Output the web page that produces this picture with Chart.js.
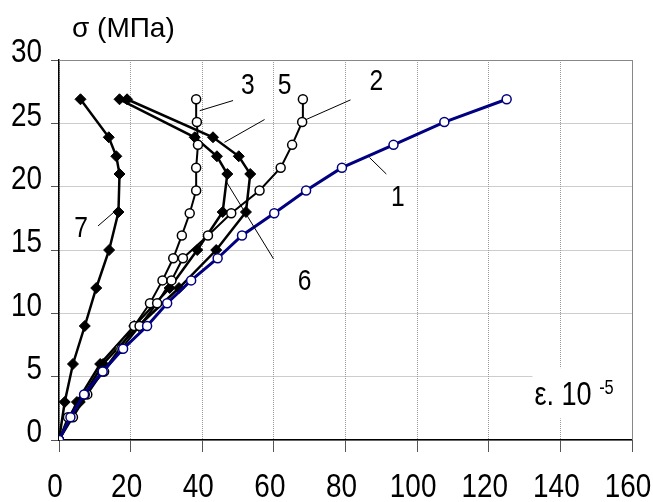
<!DOCTYPE html>
<html>
<head>
<meta charset="utf-8">
<script src="https://cdn.jsdelivr.net/npm/chart.js@4.4.0/dist/chart.umd.min.js"></script>
<style>
  body { margin: 0; background: #fff; }
  #wrap { width: 653px; height: 502px; }
</style>
</head>
<body>
<div id="wrap"><canvas id="myChart"></canvas></div>
<script>
// stress levels (MPa) for the open-circle curves and the diamond curves
var yCircles = [0, 1.8, 3.6, 5.4, 7.2, 9.0, 10.8, 12.6, 14.35, 16.15, 17.9, 19.7, 21.5, 23.3, 25.1, 26.9];
var yDiamonds = [0, 3, 6, 9, 12, 15, 18, 21, 22.4, 23.9, 26.9];

// strain (x 10^-5) for each curve
var curve1 = [0, 3.2, 7.0, 12.2, 17.9, 24.6, 30.2, 36.9, 44.3, 51.1, 60.1, 69.0, 79.0, 93.4, 107.6, 125.0];
var curve2 = [0, 2.5, 7.2, 12.6, 17.4, 22.5, 27.4, 31.4, 34.6, 41.6, 48.1, 56.0, 61.9, 65.1, 67.9, 68.1];
var curve3 = [0, 3.9, 7.9, 12.2, 16.9, 21.0, 25.4, 28.9, 31.9, 34.3, 36.5, 38.3, 38.3, 38.8, 38.5, 38.3];
var curve5 = [0, 5.8, 12.3, 22.2, 33.5, 43.9, 52.2, 53.4, 50.2, 43.0, 19.0];
var curve6 = [0, 5.0, 11.5, 21.0, 30.9, 38.6, 45.7, 47.0, 44.1, 37.9, 16.9];
var curve7 = [0, 1.6, 3.9, 7.2, 10.4, 14.0, 16.6, 16.9, 16.0, 13.9, 6.0];

var xTicks = [0, 20, 40, 60, 80, 100, 120, 140, 160];
var yTicks = [0, 5, 10, 15, 20, 25, 30];

// curve numbers and their leader lines (data units)
var tagText = ['1', '2', '3', '5', '6', '7'];
var tagX = [94.6, 88.6, 52.7, 63.0, 68.6, 6.2];
var tagY = [19.1, 28.25, 28.0, 28.0, 12.5, 16.7];
var leadX1 = [86.7, 69.0, 39.3, 46.2, 46.7, 10.9];
var leadY1 = [22.3, 25.3, 26.0, 23.5, 20.4, 16.9];
var leadX2 = [91.4, 81.4, 48.6, 57.4, 59.9, 15.8];
var leadY2 = [21.0, 26.85, 26.8, 25.3, 14.3, 18.1];

var FONT = "'Liberation Sans', Arial, sans-serif";
var SQUEEZE = 0.82; // narrow look of the original digits

function pts(xs, ys) {
    return xs.map(function (x, i) { return { x: x, y: ys[i] }; });
}

function circleSet(xs, color, width) {
    return {
        data: pts(xs, yCircles),
        showLine: true,
        borderColor: color,
        borderWidth: width,
        pointStyle: 'circle',
        pointRadius: 4.5,
        pointBorderWidth: 1.5,
        pointBackgroundColor: '#fff',
        pointBorderColor: color
    };
}

function diamondSet(xs) {
    return {
        data: pts(xs, yDiamonds),
        showLine: true,
        borderColor: '#000',
        borderWidth: 2.5,
        pointStyle: 'rectRot',
        pointRadius: 5.5,
        pointBorderWidth: 1,
        pointBackgroundColor: '#000',
        pointBorderColor: '#000'
    };
}

// narrow text: squeeze horizontally around the anchor
function narrow(ctx, txt, x, y, size, align, base) {
    ctx.save();
    ctx.font = size + 'px ' + FONT;
    ctx.textAlign = align;
    ctx.textBaseline = base;
    ctx.translate(x, y);
    ctx.scale(SQUEEZE, 1);
    ctx.fillText(txt, 0, 0);
    ctx.restore();
    ctx.font = size + 'px ' + FONT;
    return ctx.measureText(txt).width * SQUEEZE;
}

var extras = {
    id: 'extras',
    afterDatasetsDraw: function (chart) {
        var ctx = chart.ctx, xs = chart.scales.x, ys = chart.scales.y, a = chart.chartArea;
        ctx.save();
        // top and right frame
        ctx.strokeStyle = '#888';
        ctx.lineWidth = 1;
        ctx.beginPath();
        ctx.moveTo(a.left, a.top + 0.5);
        ctx.lineTo(a.right + 0.5, a.top + 0.5);
        ctx.lineTo(a.right + 0.5, a.bottom);
        ctx.stroke();

        ctx.fillStyle = '#000';
        // tick labels
        xTicks.forEach(function (v) {
            narrow(ctx, String(v), xs.getPixelForValue(v) - 4, a.bottom + 48, 34, 'center', 'middle');
        });
        yTicks.forEach(function (v) {
            narrow(ctx, String(v), a.left - 17, ys.getPixelForValue(v) - 7, 34, 'right', 'middle');
        });

        // leader lines
        ctx.strokeStyle = '#000';
        ctx.lineWidth = 1;
        for (var i = 0; i < tagText.length; i++) {
            ctx.beginPath();
            ctx.moveTo(xs.getPixelForValue(leadX1[i]), ys.getPixelForValue(leadY1[i]));
            ctx.lineTo(xs.getPixelForValue(leadX2[i]), ys.getPixelForValue(leadY2[i]));
            ctx.stroke();
        }
        for (i = 0; i < tagText.length; i++) {
            narrow(ctx, tagText[i], xs.getPixelForValue(tagX[i]), ys.getPixelForValue(tagY[i]), 30, 'center', 'middle');
        }

        // axis caption with white box
        var bx = xs.getPixelForValue(132.2), by = ys.getPixelForValue(5.67);
        ctx.fillStyle = '#fff';
        ctx.fillRect(bx, by, a.right - bx, ys.getPixelForValue(1.7) - by);
        ctx.fillStyle = '#000';
        var base = by + 37;
        var w = narrow(ctx, 'ε. 10 ', bx + 2, base, 33, 'left', 'alphabetic');
        narrow(ctx, '-5', bx + 2 + w, base - 11, 20, 'left', 'alphabetic');

        // vertical axis title
        ctx.font = '28px ' + FONT;
        ctx.textAlign = 'left';
        ctx.textBaseline = 'alphabetic';
        ctx.fillText('σ (MПa)', a.left + 13, 37);
        ctx.restore();
    }
};

var ctx = document.getElementById('myChart');
var myChart = new Chart(ctx, {
    type: 'scatter',
    data: {
        datasets: [
            circleSet(curve1, '#000080', 3),
            circleSet(curve2, '#000', 2),
            circleSet(curve3, '#000', 2),
            diamondSet(curve5),
            diamondSet(curve6),
            diamondSet(curve7)
        ]
    },
    options: {
        responsive: true,
        maintainAspectRatio: false,
        animation: false,
        layout: { padding: { top: 60, right: 21, left: 0, bottom: 0 } },
        plugins: { legend: { display: false }, tooltip: { enabled: false } },
        scales: {
            x: {
                type: 'linear',
                min: 0, max: 160,
                afterBuildTicks: function (s) { s.ticks = xTicks.map(function (v) { return { value: v }; }); },
                afterFit: function (s) { s.height = 62; s.paddingLeft = 0; s.paddingRight = 0; },
                ticks: { display: false },
                grid: { color: '#9a9a9a', lineWidth: 1, tickLength: 12, tickColor: '#555' },
                border: { display: true, color: '#000', width: 1.5, dash: [1, 1] }
            },
            y: {
                type: 'linear',
                min: 0, max: 30,
                afterBuildTicks: function (s) { s.ticks = yTicks.map(function (v) { return { value: v }; }); },
                afterFit: function (s) { s.width = 59; s.paddingTop = 0; s.paddingBottom = 0; },
                ticks: { display: false },
                grid: { color: '#9a9a9a', lineWidth: 1, tickLength: 8, tickColor: '#555' },
                border: { display: true, color: '#000', width: 1.5, dash: [1, 1] }
            }
        }
    },
    plugins: [extras]
});
</script>
</body>
</html>
